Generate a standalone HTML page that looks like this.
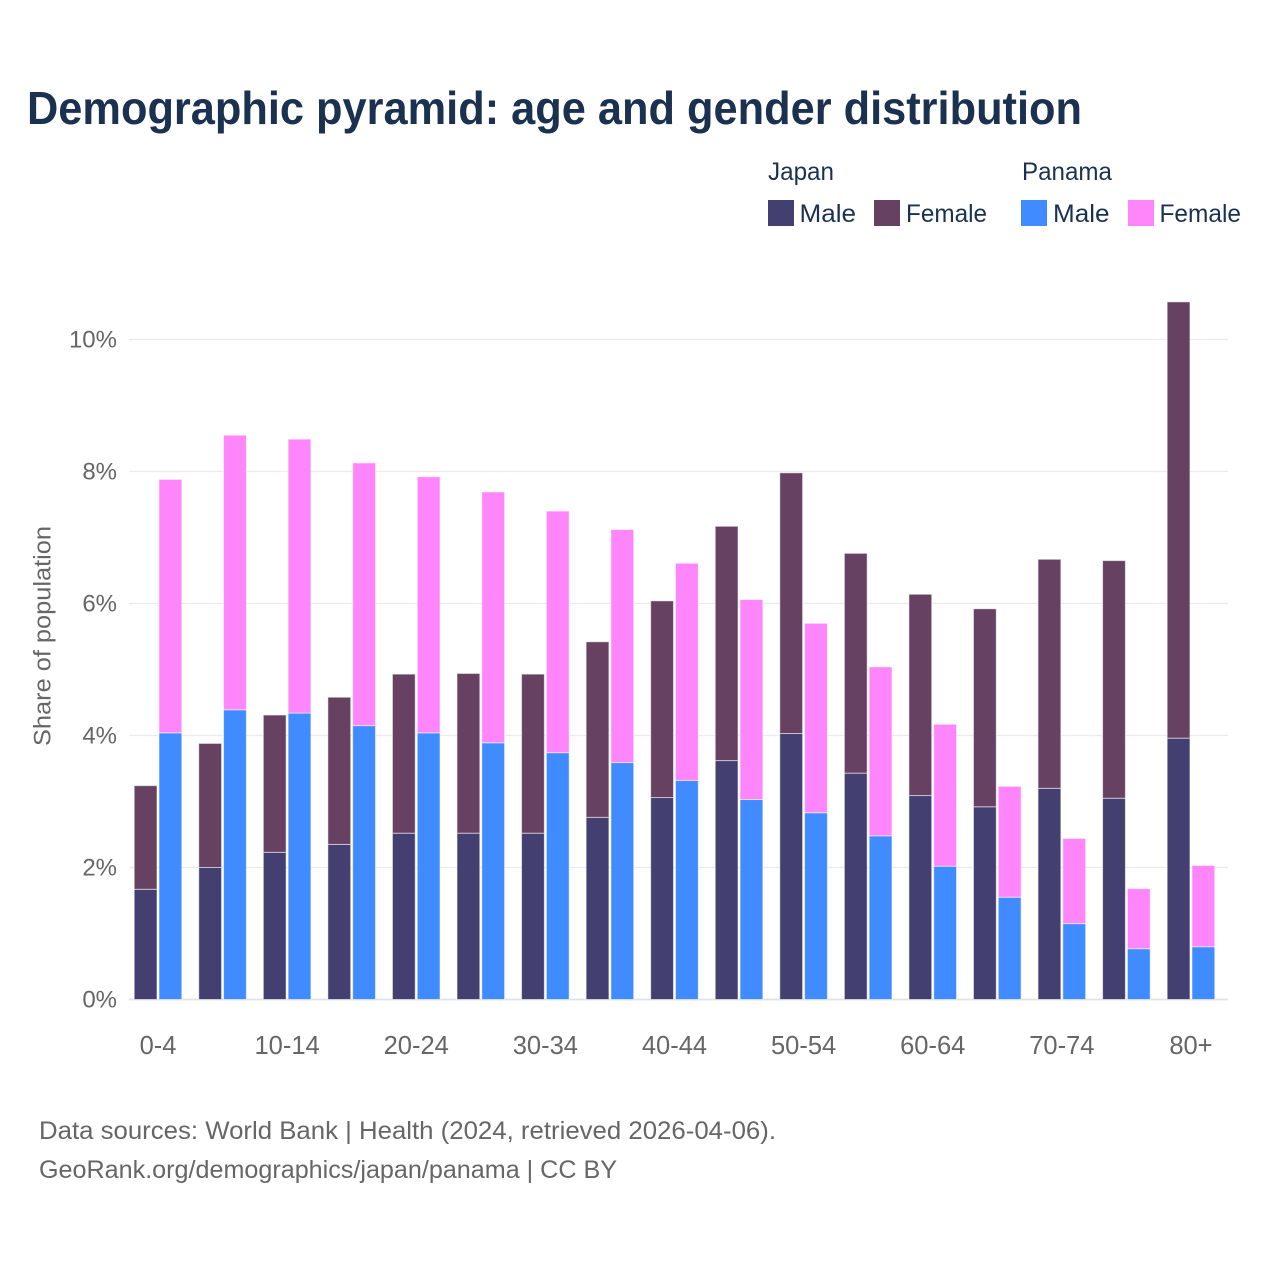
<!DOCTYPE html>
<html lang="en">
<head>
<meta charset="utf-8">
<title>Demographic pyramid: age and gender distribution</title>
<style>
html,body{margin:0;padding:0;background:#fff;}
svg{display:block;}
text{font-family:"Liberation Sans",sans-serif;}
</style>
</head>
<body>
<svg id="chart" xmlns="http://www.w3.org/2000/svg" width="1280" height="1280" viewBox="0 0 1280 1280">
  <rect x="0" y="0" width="1280" height="1280" fill="#ffffff"/>
  <text x="27" y="124" font-size="46" font-weight="700" fill="#1a3150" textLength="1055" lengthAdjust="spacingAndGlyphs">Demographic pyramid: age and gender distribution</text>

  <g font-size="25" fill="#1a3150">
    <text x="768" y="180" textLength="66" lengthAdjust="spacingAndGlyphs">Japan</text>
    <text x="1022" y="180" textLength="90" lengthAdjust="spacingAndGlyphs">Panama</text>
    <rect x="768" y="200" width="26" height="26" fill="#433f70"/>
    <text x="799.5" y="222" textLength="56.5" lengthAdjust="spacingAndGlyphs">Male</text>
    <rect x="874" y="200" width="26" height="26" fill="#674162"/>
    <text x="906" y="222" textLength="81" lengthAdjust="spacingAndGlyphs">Female</text>
    <rect x="1021" y="200" width="26" height="26" fill="#3f8bff"/>
    <text x="1053" y="222" textLength="56.5" lengthAdjust="spacingAndGlyphs">Male</text>
    <rect x="1128" y="200" width="26" height="26" fill="#ff85fa"/>
    <text x="1159.5" y="222" textLength="81.5" lengthAdjust="spacingAndGlyphs">Female</text>
  </g>

  <g id="grid"></g>
  <g id="bars"></g>
  <g id="y-ticks"></g>
  <g id="x-ticks"></g>

  <text transform="translate(50.5,636) rotate(-90)" text-anchor="middle" font-size="24" fill="#666666" textLength="220" lengthAdjust="spacingAndGlyphs">Share of population</text>

  <text x="39" y="1139" font-size="25" fill="#666666" textLength="737" lengthAdjust="spacingAndGlyphs">Data sources: World Bank | Health (2024, retrieved 2026-04-06).</text>
  <text x="39" y="1178" font-size="25" fill="#666666" textLength="578" lengthAdjust="spacingAndGlyphs">GeoRank.org/demographics/japan/panama | CC BY</text>
</svg>
<script>
const ageGroups = ["0-4","5-9","10-14","15-19","20-24","25-29","30-34","35-39","40-44","45-49","50-54","55-59","60-64","65-69","70-74","75-79","80+"];
const xTickLabels = ["0-4","10-14","20-24","30-34","40-44","50-54","60-64","70-74","80+"];
const yTicks = [0,2,4,6,8,10];
const japanMale = [1.67,2.00,2.23,2.35,2.52,2.52,2.52,2.76,3.06,3.62,4.03,3.43,3.09,2.92,3.20,3.05,3.96];
const japanFemale = [1.57,1.88,2.08,2.23,2.41,2.42,2.41,2.66,2.98,3.55,3.95,3.33,3.05,3.00,3.47,3.60,6.61];
const panamaMale = [4.04,4.39,4.34,4.15,4.04,3.89,3.74,3.59,3.32,3.03,2.83,2.48,2.02,1.55,1.15,0.77,0.80];
const panamaFemale = [3.84,4.16,4.15,3.98,3.88,3.80,3.66,3.53,3.29,3.03,2.87,2.56,2.15,1.68,1.29,0.91,1.23];

const SVG_NS = "http://www.w3.org/2000/svg";
const plotLeft = 129;
const plotRight = 1228;
const firstCenter = 158;
const groupStep = 64.56;
const barWidth = 22.8;
function yScale(v) { return 999.5 - v * 66; }
function xScale(i) { return firstCenter + i * groupStep; }

function addBar(parent, name, x, v0, v1, fill) {
  const r = document.createElementNS(SVG_NS, "rect");
  
  
  r.setAttribute("x", x.toFixed(2));
  r.setAttribute("y", yScale(v1).toFixed(2));
  r.setAttribute("width", barWidth);
  r.setAttribute("height", (yScale(v0) - yScale(v1)).toFixed(2));
  r.setAttribute("fill", fill);
  r.setAttribute("stroke", "#ffffff");
  r.setAttribute("stroke-opacity", "0.55");
  r.setAttribute("stroke-width", "1");
  parent.appendChild(r);
}

const grid = document.getElementById("grid");
yTicks.forEach(function (t) {
  const l = document.createElementNS(SVG_NS, "line");
  
  
  l.setAttribute("x1", plotLeft);
  l.setAttribute("x2", plotRight);
  l.setAttribute("y1", yScale(t));
  l.setAttribute("y2", yScale(t));
  l.setAttribute("stroke", t === 0 ? "#e2e2e6" : "#ebebef");
  l.setAttribute("stroke-width", t === 0 ? 1.8 : 1.3);
  grid.appendChild(l);
});

const barsLayer = document.getElementById("bars");
ageGroups.forEach(function (age, i) {
  const c = xScale(i);
  const jm = japanMale[i], jf = japanFemale[i], pm = panamaMale[i], pf = panamaFemale[i];
  addBar(barsLayer, "bar-japan-male-" + age, c - 23.8, 0, jm, "#433f70");
  addBar(barsLayer, "bar-japan-female-" + age, c - 23.8, jm, jm + jf, "#674162");
  addBar(barsLayer, "bar-panama-male-" + age, c + 1, 0, pm, "#3f8bff");
  addBar(barsLayer, "bar-panama-female-" + age, c + 1, pm, pm + pf, "#ff85fa");
});

const yTicksLayer = document.getElementById("y-ticks");
yTicks.forEach(function (t) {
  const s = document.createElementNS(SVG_NS, "text");
  
  
  s.setAttribute("x", 117);
  s.setAttribute("y", yScale(t) + 8);
  s.setAttribute("text-anchor", "end");
  s.setAttribute("font-size", "24");
  s.setAttribute("fill", "#666666");
  s.textContent = t + "%";
  yTicksLayer.appendChild(s);
});

const xTicksLayer = document.getElementById("x-ticks");
xTickLabels.forEach(function (label) {
  const s = document.createElementNS(SVG_NS, "text");
  
  
  s.setAttribute("x", xScale(ageGroups.indexOf(label)));
  s.setAttribute("y", 1054);
  s.setAttribute("text-anchor", "middle");
  s.setAttribute("font-size", "25.5");
  s.setAttribute("fill", "#666666");
  s.textContent = label;
  xTicksLayer.appendChild(s);
});
</script>
</body>
</html>
